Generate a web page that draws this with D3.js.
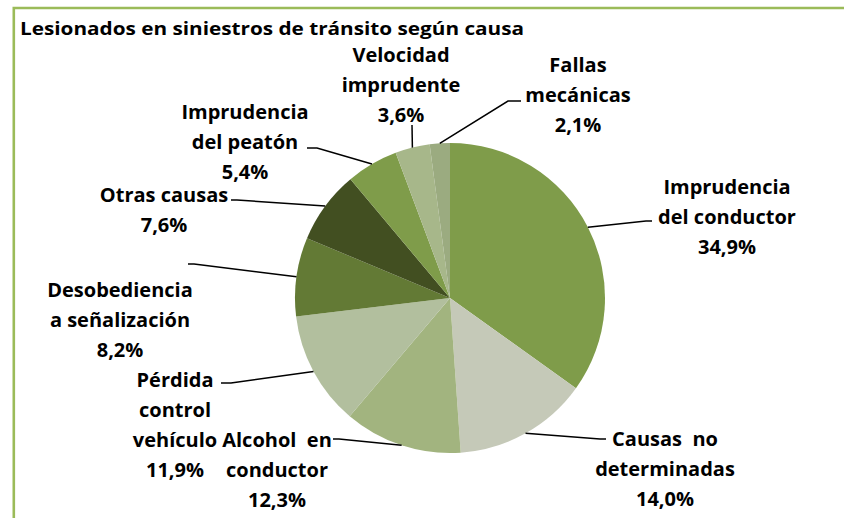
<!DOCTYPE html>
<html>
<head>
<meta charset="utf-8">
<script src="https://cdn.jsdelivr.net/npm/d3@7"></script>
<style>
  html, body { margin: 0; padding: 0; background: #fff; }
  svg text { font-family: "Open Sans", sans-serif; font-weight: bold; fill: #000; }
</style>
</head>
<body>
<div id="chart"></div>
<script>
// datos del grafico
const title = "Lesionados en siniestros de tránsito según causa";
const causes = ["Imprudencia del conductor", "Causas no determinadas", "Alcohol en conductor",
  "Pérdida control vehículo", "Desobediencia a señalización", "Otras causas",
  "Imprudencia del peatón", "Velocidad imprudente", "Fallas mecánicas"];
const shares = [34.9, 14.0, 12.3, 11.9, 8.2, 7.6, 5.4, 3.6, 2.1];
const labelLines = [["Imprudencia", "del conductor"], ["Causas  no", "determinadas"], ["Alcohol  en", "conductor"],
  ["Pérdida", "control", "vehículo"], ["Desobediencia", "a señalización"], ["Otras causas"],
  ["Imprudencia", "del peatón"], ["Velocidad", "imprudente"], ["Fallas", "mecánicas"]];
const colors = ["#7f9c4a", "#c5c9b8", "#a2b47f", "#b2bf9e", "#637a35", "#424f21", "#7f9c4a", "#a7b78a", "#9bab80"];

// posiciones de etiquetas (codo de la linea, fin horizontal, centro del texto)
const labelPos = [
  { elbow: [646, 221], endX: 652, tx: 727, ty: 186.5 },
  { elbow: [600, 439], endX: 606, tx: 665, ty: 439 },
  { elbow: [339, 439], endX: 333, tx: 277, ty: 440 },
  { elbow: [231, 383], endX: 221, tx: 175, ty: 380 },
  { elbow: [194, 264], endX: 188, tx: 120, ty: 290 },
  { elbow: [237, 200], endX: 231, tx: 164, ty: 195 },
  { elbow: [317, 148], endX: 307, tx: 245, ty: 111.5 },
  { elbow: [412, 125], endX: 412, tx: 401, ty: 55 },
  { elbow: [508, 101], endX: 521, tx: 578, ty: 65 }
];

const width = 844, height = 518;
const cx = 450, cy = 298, radius = 155;
const lineGap = 30;

const svg = d3.select("#chart").append("svg")
  .attr("width", width)
  .attr("height", height);

// borde verde
svg.append("path")
  .attr("d", "M13.8," + height + " V8 H" + width)
  .attr("fill", "none")
  .attr("stroke", "#9bbb59")
  .attr("stroke-width", 2.6);

svg.append("text")
  .attr("x", 20)
  .attr("y", 35)
  .attr("textLength", 504)
  .attr("lengthAdjust", "spacingAndGlyphs")
  .style("font-size", "18px")
  .text(title);

const data = causes.map((c, i) => ({ cause: c, value: shares[i], i: i }));

const pie = d3.pie().sort(null).value(d => d.value);
const arcs = pie(data);
const arc = d3.arc().innerRadius(0).outerRadius(radius);

const g = svg.append("g").attr("transform", "translate(" + cx + "," + cy + ")");

g.selectAll("path")
  .data(arcs)
  .enter()
  .append("path")
  .attr("d", arc)
  .attr("fill", d => colors[d.data.i]);

const fmt = v => d3.format(".1f")(v).replace(".", ",") + "%";

// lineas guia
svg.append("g")
  .selectAll("polyline")
  .data(arcs)
  .enter()
  .append("polyline")
  .attr("fill", "none")
  .attr("stroke", "#000")
  .attr("stroke-width", 1.5)
  .attr("points", d => {
    const a = (d.startAngle + d.endAngle) / 2;
    const p0 = [cx + radius * Math.sin(a), cy - radius * Math.cos(a)];
    const pos = labelPos[d.data.i];
    return [p0, pos.elbow, [pos.endX, pos.elbow[1]]].map(p => p.join(",")).join(" ");
  });

// etiquetas
const labels = svg.append("g")
  .selectAll("text")
  .data(arcs)
  .enter()
  .append("text")
  .attr("text-anchor", "middle")
  .style("font-size", "20px")
  .style("white-space", "pre")
  .attr("x", d => labelPos[d.data.i].tx)
  .attr("y", d => labelPos[d.data.i].ty);

labels.each(function (d) {
  const lines = labelLines[d.data.i].concat([fmt(d.data.value)]);
  const t = d3.select(this);
  const pos = labelPos[d.data.i];
  lines.forEach((l, k) => {
    t.append("tspan")
      .attr("x", pos.tx)
      .attr("y", pos.ty + k * lineGap)
      .attr("dy", "0.36em")
      .text(l);
  });
});
</script>
</body>
</html>
